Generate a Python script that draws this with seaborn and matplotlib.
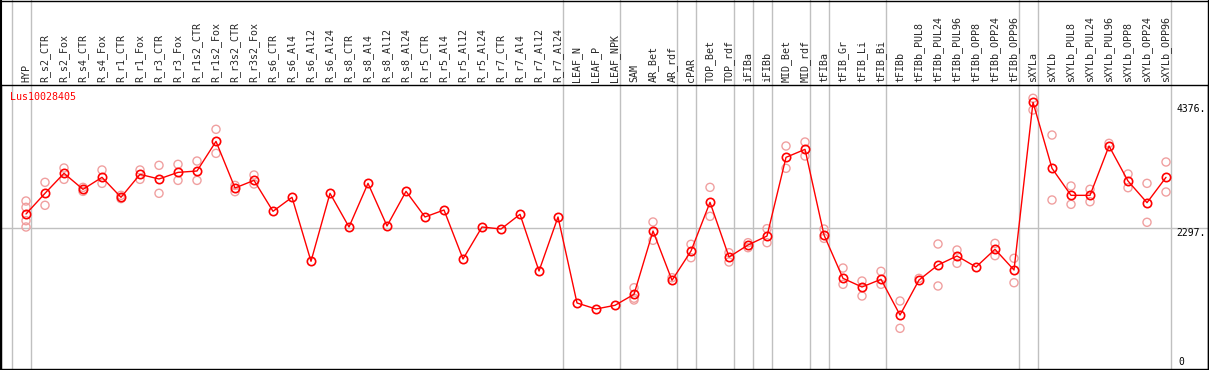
import matplotlib
matplotlib.use("Agg")
import matplotlib.pyplot as plt
from matplotlib.lines import Line2D
import seaborn as sns
import pandas as pd

# ---------------- data ----------------
gene = "Lus10028405"

samples = [
    "HYP", "R_s2_CTR", "R_s2_Fox", "R_s4_CTR", "R_s4_Fox", "R_r1_CTR", "R_r1_Fox",
    "R_r3_CTR", "R_r3_Fox", "R_r1s2_CTR", "R_r1s2_Fox", "R_r3s2_CTR", "R_r3s2_Fox",
    "R_s6_CTR", "R_s6_Al4", "R_s6_Al12", "R_s6_Al24", "R_s8_CTR", "R_s8_Al4",
    "R_s8_Al12", "R_s8_Al24", "R_r5_CTR", "R_r5_Al4", "R_r5_Al12", "R_r5_Al24",
    "R_r7_CTR", "R_r7_Al4", "R_r7_Al12", "R_r7_Al24", "LEAF_N", "LEAF_P", "LEAF_NPK",
    "SAM", "AR_Bet", "AR_rdf", "cPAR", "TOP_Bet", "TOP_rdf", "iFIBa", "iFIBb",
    "MID_Bet", "MID_rdf", "tFIBa", "tFIB_Gr", "tFIB_Li", "tFIB_Bi", "tFIBb",
    "tFIBb_PUL8", "tFIBb_PUL24", "tFIBb_PUL96", "tFIBb_OPP8", "tFIBb_OPP24",
    "tFIBb_OPP96", "sXYLa", "sXYLb", "sXYLb_PUL8", "sXYLb_PUL24", "sXYLb_PUL96",
    "sXYLb_OPP8", "sXYLb_OPP24", "sXYLb_OPP96",
]

mean_values = [
    2532, 2879, 3214, 2946, 3147, 2812, 3197, 3119, 3230, 3253, 3750, 2968, 3096,
    2577, 2812, 1739, 2879, 2314, 3046, 2331, 2912, 2482, 2599, 1777, 2314, 2280,
    2527, 1576, 2482, 1040, 939, 1001, 1185, 2247, 1420, 1911, 2728, 1811, 2012,
    2163, 3482, 3616, 2180, 1453, 1308, 1437, 838, 1425, 1677, 1828, 1643, 1940,
    1593, 4405, 3298, 2845, 2845, 3672, 3085, 2722, 3147,
]

replicates = [
    [2750, 2644, 2420, 2314], [3063, 2678], [3303, 3113], [2979, 2912],
    [3270, 3046], [2845, 2790], [3270, 3113], [3348, 2879], [3365, 3096],
    [3420, 3096], [3952, 3549], [3012, 2906], [3186, 3035],
    [], [], [], [], [], [], [], [], [], [], [], [], [], [], [], [], [], [], [],
    [1296, 1090, 1120], [2398, 2091], [1464], [2024, 1799], [2979, 2493],
    [1883, 1727], [2051, 1967], [2286, 2051], [3672, 3298], [3739, 3504],
    [2280, 2124], [1626, 1353], [1408, 1157], [1571, 1353], [1073, 615],
    [1453], [2029, 1325], [1928, 1705], [], [2040, 1833], [1789, 1380],
    [4472, 4276], [3856, 2767], [3001, 2694], [2946, 2738], [3717],
    [3203, 2973], [3046, 2393], [3404, 2901],
]

# number of samples in each group (separated by vertical lines)
group_sizes = [1, 28, 3, 3, 1, 2, 1, 1, 2, 1, 3, 7, 1, 7]

y_ticks = [0, 2297, 4376]
y_tick_labels = ["0", "2297.", "4376."]

# ---------------- frames ----------------
idx = list(range(len(samples)))
df_mean = pd.DataFrame({"x": idx, "value": mean_values})
rx, ry = [], []
for i, reps in enumerate(replicates):
    for v in reps:
        rx.append(i)
        ry.append(v)
df_rep = pd.DataFrame({"x": rx, "value": ry})

# ---------------- plot ----------------
sns.set_style("white")
plt.rcParams["font.family"] = ["DejaVu Sans Mono", "DejaVu Sans"]

W, H = 1209, 370
fig = plt.figure(figsize=(W / 100, H / 100), dpi=100)
ax_left, ax_right, ax_top, ax_bottom = 1, 1208, 85, 369
ax = fig.add_axes([ax_left / W, (H - ax_bottom) / H,
                   (ax_right - ax_left) / W, (ax_bottom - ax_top) / H])

ax.set_xlim(-1.316, 62.21)
ax.set_ylim(-67, 4695)

grid_c = "#c0c0c0"
ax.axhline(2297, color=grid_c, lw=1, zorder=0)

# group separators
ext = 1 + ax_top / (ax_bottom - ax_top)
pos = -1
ax.axvline(pos + 0.26, ymin=0, ymax=ext, color=grid_c, lw=1, clip_on=False, zorder=0)
for g in group_sizes:
    pos += g
    ax.axvline(pos + 0.26, ymin=0, ymax=ext, color=grid_c, lw=1, clip_on=False, zorder=0)

pink = "#f0a0a0"
sns.scatterplot(data=df_rep, x="x", y="value", ax=ax, marker="o", s=34,
                facecolor="none", edgecolor=pink, linewidth=1.0, zorder=2, legend=False)
sns.lineplot(data=df_mean, x="x", y="value", ax=ax, color="red", lw=1.0,
             marker="o", markersize=6, markerfacecolor="none",
             markeredgecolor="red", markeredgewidth=1.2, zorder=3, legend=False)

# top labels
ax.xaxis.tick_top()
ax.set_xticks(idx)
ax.set_xticklabels(samples, rotation=90, fontsize=7.2, ha="center", va="bottom")
ax.tick_params(axis="x", length=0, pad=2)
ax.set_yticks([])
ax.set_xlabel("")
ax.set_ylabel("")

# right-side value labels
lab_x = 60.55
for v, lab in zip(y_ticks, y_tick_labels):
    if v == 0:
        ax.text(lab_x + 0.1, -40, lab, fontsize=7.0, ha="left", va="bottom", color="black")
    else:
        ax.text(lab_x, v, lab, fontsize=7.0, ha="left", va="top", color="black")

ax.text(9 / (ax_right - ax_left), 1 - 7 / (ax_bottom - ax_top), gene,
        transform=ax.transAxes, color="red", fontsize=7.2, ha="left", va="top")

for s in ax.spines.values():
    s.set_color("black")
    s.set_linewidth(1)
    s.set_visible(True)

# outer frame (top and sides of the label area)
fig.add_artist(Line2D([0.5 / W, 0.5 / W], [0, 1], transform=fig.transFigure,
                      color="black", lw=1.5))
fig.add_artist(Line2D([(W - 1.5) / W, (W - 1.5) / W], [0, 1], transform=fig.transFigure,
                      color="black", lw=1))
fig.add_artist(Line2D([0, 1], [1 - 0.5 / H, 1 - 0.5 / H], transform=fig.transFigure,
                      color="black", lw=1))

fig.savefig("out.png", dpi=100)
